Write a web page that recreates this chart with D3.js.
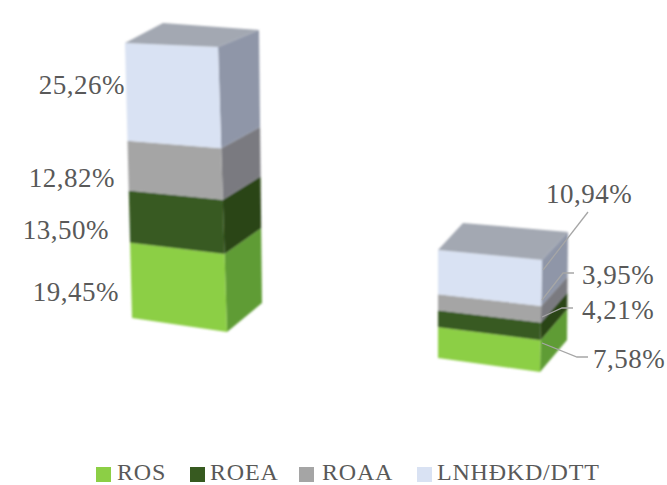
<!DOCTYPE html>
<html>
<head>
<meta charset="utf-8">
<script src="https://cdn.jsdelivr.net/npm/d3@7"></script>
<style>
  html, body { margin: 0; padding: 0; background: #fff; }
  svg { display: block; }
  text { font-family: "Liberation Serif", serif; fill: #595959; }
  .value-label { font-size: 27px; letter-spacing: 0.5px; }
  .legend-label { font-size: 24px; letter-spacing: 0.8px; }
  .leader { fill: none; stroke: #a6a6a6; stroke-width: 1.3; }
</style>
</head>
<body>
<svg id="chart" width="667" height="485"></svg>
<script>
const seriesNames = ["ROS", "ROEA", "ROAA", "LNHĐKD/DTT"];
const ros = [19.45, 7.58];
const roea = [13.50, 4.21];
const roaa = [12.82, 3.95];
const lnhdkd = [25.26, 10.94];
const seriesValues = [ros, roea, roaa, lnhdkd];

const frontColors = ["#8ccf45", "#375a20", "#a5a5a5", "#d9e2f3"];
const sideColors = ["#5f9c35", "#2c4517", "#7a7a80", "#8f96a8"];
const topColor = "#a3a8b2";

// corners of each box, pixel positions of the perspective, not data
const boxes = [
  {
    frontLeft: [[125, 43], [132, 318]],
    frontRight: [[218, 47], [227, 332]],
    backRight: [[259, 30], [262, 303]],
    backLeft: [163, 23]
  },
  {
    frontLeft: [[438, 250], [438, 358]],
    frontRight: [[542, 260], [540, 372]],
    backRight: [[568, 232], [567, 340]],
    backLeft: [463, 223]
  }
];

// label baselines, bottom segment first
const labelSpots = [
  [[119, 301], [109, 239], [115, 187], [125, 94]],
  [[593, 368], [582, 319], [582, 284], [546, 203]]
];
const labelAnchors = ["end", "start"];
const leaders = [
  null,
  [
    [[542, 343], [577, 357], [588, 357]],
    [[542, 317], [562, 308], [573, 308]],
    [[542, 300], [563, 273], [574, 273]],
    [[543, 270], [588, 212]]
  ]
];

const legendX = [96, 190, 299, 417];
const legendTextX = [117, 210, 322, 437];
const legendY = 467;
const legendBaseline = 480;

const svg = d3.select("#chart");
const defs = svg.append("defs");
defs.append("filter").attr("id", "soft")
  .attr("x", "-5%").attr("y", "-5%").attr("width", "110%").attr("height", "110%")
  .append("feGaussianBlur").attr("stdDeviation", 1.1);

const pct = d3.formatLocale({ decimal: ",", thousands: ".", grouping: [3], currency: ["", ""] }).format(".2f");
const line = d3.line();

// one scale per vertical edge of a box, mapping cumulative value to a point
function edgeScale(edge, total) {
  const x = d3.scaleLinear().domain([0, total]).range([edge[1][0], edge[0][0]]);
  const y = d3.scaleLinear().domain([0, total]).range([edge[1][1], edge[0][1]]);
  return (v) => [x(v), y(v)];
}

boxes.forEach((box, barIndex) => {
  const values = seriesValues.map((s) => s[barIndex]);
  const total = d3.sum(values);
  const left = edgeScale(box.frontLeft, total);
  const right = edgeScale(box.frontRight, total);
  const back = edgeScale(box.backRight, total);
  const g = svg.append("g").attr("filter", "url(#soft)");

  let base = 0;
  values.forEach((value, i) => {
    const topV = base + value;
    g.append("path")
      .attr("d", line([right(base), back(base), back(topV), right(topV)]) + "Z")
      .attr("fill", sideColors[i]);
    g.append("path")
      .attr("d", line([left(base), right(base), right(topV), left(topV)]) + "Z")
      .attr("fill", frontColors[i]);
    base = topV;
  });

  g.append("path")
    .attr("d", line([left(total), box.backLeft, back(total), right(total)]) + "Z")
    .attr("fill", topColor);

  if (leaders[barIndex]) {
    leaders[barIndex].forEach((pts) => {
      svg.append("path").attr("class", "leader").attr("d", line(pts));
    });
  }

  values.forEach((value, i) => {
    svg.append("text")
      .attr("class", "value-label")
      .attr("x", labelSpots[barIndex][i][0])
      .attr("y", labelSpots[barIndex][i][1])
      .attr("text-anchor", labelAnchors[barIndex])
      .text(pct(value) + "%");
  });
});

seriesNames.forEach((name, i) => {
  svg.append("rect")
    .attr("x", legendX[i]).attr("y", legendY)
    .attr("width", 15).attr("height", 15)
    .attr("fill", frontColors[i]);
  svg.append("text")
    .attr("class", "legend-label")
    .attr("x", legendTextX[i]).attr("y", legendBaseline)
    .text(name);
});
</script>
</body>
</html>
